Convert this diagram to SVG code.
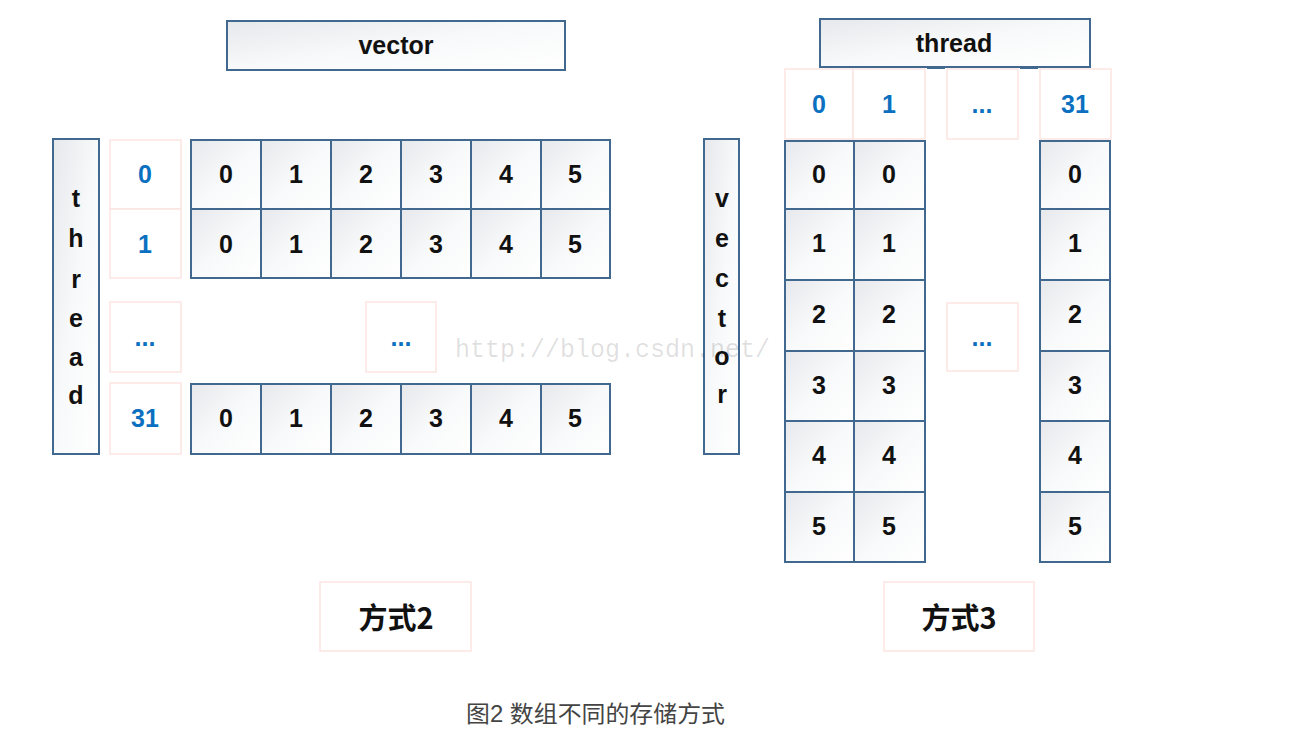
<svg xmlns="http://www.w3.org/2000/svg" width="1300" height="748" viewBox="0 0 1300 748">
<defs>
<linearGradient id="g" x1="0" y1="0" x2="1" y2="1">
<stop offset="0" stop-color="#e6e8ec"/>
<stop offset="0.5" stop-color="#f8f9fa"/>
<stop offset="1" stop-color="#ffffff"/>
</linearGradient>
</defs>
<style>
.c{fill:url(#g);stroke:#41688f;stroke-width:2}
.p{fill:#fff;stroke:#fce5e1;stroke-width:1.5}
.t{font-family:"Liberation Sans","Noto Sans",sans-serif;font-weight:bold;font-size:25px;fill:#111;text-anchor:middle;dominant-baseline:central}
.b{fill:#0a70bf}
.h{font-size:25px}
.z{font-family:"Noto Sans CJK SC",sans-serif;font-weight:bold;font-size:29px;fill:#111;text-anchor:middle;dominant-baseline:central}
</style>
<rect width="1300" height="748" fill="#fff"/>

<g id="left-vector-header">
<rect class="c" x="227" y="21" width="338" height="49"/>
<text class="t h" x="396" y="45">vector</text>
</g>
<g id="left-thread-axis">
<rect class="c" x="53" y="139" width="46" height="315"/>
<text class="t" x="76" y="198">t</text>
<text class="t" x="76" y="238">h</text>
<text class="t" x="76" y="279">r</text>
<text class="t" x="76" y="318">e</text>
<text class="t" x="76" y="357">a</text>
<text class="t" x="76" y="395">d</text>
</g>
<g id="left-row-labels">
<rect class="p" x="110" y="140" width="71" height="69"/>
<text class="t b" x="145" y="174">0</text>
<rect class="p" x="110" y="209" width="71" height="69"/>
<text class="t b" x="145" y="244">1</text>
<rect class="p" x="110" y="302" width="71" height="70"/>
<text class="t b" x="145" y="337">...</text>
<rect class="p" x="110" y="383" width="71" height="71"/>
<text class="t b" x="145" y="418">31</text>
</g>
<g id="left-row0">
<rect class="c" x="191" y="140" width="70" height="69"/><text class="t" x="226" y="174">0</text>
<rect class="c" x="261" y="140" width="70" height="69"/><text class="t" x="296" y="174">1</text>
<rect class="c" x="331" y="140" width="70" height="69"/><text class="t" x="366" y="174">2</text>
<rect class="c" x="401" y="140" width="70" height="69"/><text class="t" x="436" y="174">3</text>
<rect class="c" x="471" y="140" width="70" height="69"/><text class="t" x="506" y="174">4</text>
<rect class="c" x="541" y="140" width="69" height="69"/><text class="t" x="575" y="174">5</text>
</g>
<g id="left-row1">
<rect class="c" x="191" y="209" width="70" height="69"/><text class="t" x="226" y="244">0</text>
<rect class="c" x="261" y="209" width="70" height="69"/><text class="t" x="296" y="244">1</text>
<rect class="c" x="331" y="209" width="70" height="69"/><text class="t" x="366" y="244">2</text>
<rect class="c" x="401" y="209" width="70" height="69"/><text class="t" x="436" y="244">3</text>
<rect class="c" x="471" y="209" width="70" height="69"/><text class="t" x="506" y="244">4</text>
<rect class="c" x="541" y="209" width="69" height="69"/><text class="t" x="575" y="244">5</text>
</g>
<g id="left-mid-dots">
<rect class="p" x="366" y="302" width="70" height="70"/>
<text class="t b" x="401" y="337">...</text>
</g>
<g id="left-row31">
<rect class="c" x="191" y="384" width="70" height="70"/><text class="t" x="226" y="418">0</text>
<rect class="c" x="261" y="384" width="70" height="70"/><text class="t" x="296" y="418">1</text>
<rect class="c" x="331" y="384" width="70" height="70"/><text class="t" x="366" y="418">2</text>
<rect class="c" x="401" y="384" width="70" height="70"/><text class="t" x="436" y="418">3</text>
<rect class="c" x="471" y="384" width="70" height="70"/><text class="t" x="506" y="418">4</text>
<rect class="c" x="541" y="384" width="69" height="70"/><text class="t" x="575" y="418">5</text>
</g>
<g id="label-2">
<rect class="p" x="320" y="582" width="151" height="69"/>
<text class="z" x="396" y="616">方式2</text>
</g>

<g id="right-thread-header">
<rect class="c" x="820" y="19" width="270" height="48"/>
<text class="t h" x="954" y="43">thread</text>
<rect x="927" y="66" width="18" height="3" fill="#41688f"/>
<rect x="1020" y="66" width="18" height="3" fill="#41688f"/>
</g>
<g id="right-col-labels">
<rect class="p" x="785" y="69" width="68" height="70"/>
<text class="t b" x="819" y="104">0</text>
<rect class="p" x="853" y="69" width="72" height="70"/>
<text class="t b" x="889" y="104">1</text>
<rect class="p" x="947" y="69" width="71" height="70"/>
<text class="t b" x="982" y="104">...</text>
<rect class="p" x="1040" y="69" width="71" height="70"/>
<text class="t b" x="1075" y="104">31</text>
</g>
<g id="right-vector-axis">
<rect class="c" x="704" y="139" width="35" height="315"/>
<text class="t" x="722" y="198">v</text>
<text class="t" x="722" y="238">e</text>
<text class="t" x="722" y="278">c</text>
<text class="t" x="722" y="318">t</text>
<text class="t" x="722" y="356">o</text>
<text class="t" x="722" y="394">r</text>
</g>
<g id="right-col0">
<rect class="c" x="785" y="141" width="69" height="68"/><text class="t" x="819" y="174">0</text>
<rect class="c" x="785" y="209" width="69" height="71"/><text class="t" x="819" y="243">1</text>
<rect class="c" x="785" y="280" width="69" height="71"/><text class="t" x="819" y="314">2</text>
<rect class="c" x="785" y="351" width="69" height="70"/><text class="t" x="819" y="385">3</text>
<rect class="c" x="785" y="421" width="69" height="71"/><text class="t" x="819" y="455">4</text>
<rect class="c" x="785" y="492" width="69" height="70"/><text class="t" x="819" y="526">5</text>
</g>
<g id="right-col1">
<rect class="c" x="854" y="141" width="71" height="68"/><text class="t" x="889" y="174">0</text>
<rect class="c" x="854" y="209" width="71" height="71"/><text class="t" x="889" y="243">1</text>
<rect class="c" x="854" y="280" width="71" height="71"/><text class="t" x="889" y="314">2</text>
<rect class="c" x="854" y="351" width="71" height="70"/><text class="t" x="889" y="385">3</text>
<rect class="c" x="854" y="421" width="71" height="71"/><text class="t" x="889" y="455">4</text>
<rect class="c" x="854" y="492" width="71" height="70"/><text class="t" x="889" y="526">5</text>
</g>
<g id="right-mid-dots">
<rect class="p" x="947" y="303" width="71" height="68"/>
<text class="t b" x="982" y="337">...</text>
</g>
<g id="right-col31">
<rect class="c" x="1040" y="141" width="70" height="68"/><text class="t" x="1075" y="174">0</text>
<rect class="c" x="1040" y="209" width="70" height="71"/><text class="t" x="1075" y="243">1</text>
<rect class="c" x="1040" y="280" width="70" height="71"/><text class="t" x="1075" y="314">2</text>
<rect class="c" x="1040" y="351" width="70" height="70"/><text class="t" x="1075" y="385">3</text>
<rect class="c" x="1040" y="421" width="70" height="71"/><text class="t" x="1075" y="455">4</text>
<rect class="c" x="1040" y="492" width="70" height="70"/><text class="t" x="1075" y="526">5</text>
</g>
<g id="label-3">
<rect class="p" x="884" y="582" width="150" height="69"/>
<text class="z" x="959" y="616">方式3</text>
</g>

<g id="connectors"></g>

<text x="455" y="357" font-family="'Liberation Mono',monospace" font-size="25" fill="#000" fill-opacity="0.13" textLength="315" lengthAdjust="spacingAndGlyphs">http://blog.csdn.net/</text>
<text x="466" y="714" font-family="'Liberation Sans','Noto Sans CJK SC',sans-serif" font-size="23" fill="#444" dominant-baseline="central" textLength="259" lengthAdjust="spacingAndGlyphs">图2 数组不同的存储方式</text>
</svg>
